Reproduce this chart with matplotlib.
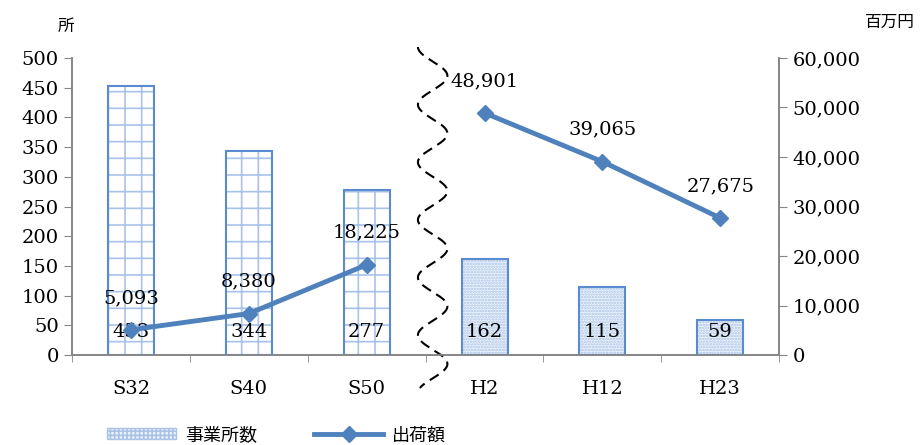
import matplotlib
matplotlib.use("Agg")
import matplotlib.pyplot as plt
import matplotlib.transforms as mtransforms
import numpy as np
from matplotlib.lines import Line2D
from matplotlib.patches import Patch

categories = ["S32", "S40", "S50", "H2", "H12", "H23"]
offices = [453, 344, 277, 162, 115, 59]
shipments_showa = [5093, 8380, 18225]
shipments_heisei = [48901, 39065, 27675]

BLUE = "#4F81BD"
EDGE = "#5B8BCF"
HATCH = "#A9C3E8"
GRAY = "#868686"
SERIF = "DejaVu Serif"
JP = ["Noto Sans CJK JP", "DejaVu Sans"]

plt.rcParams["hatch.linewidth"] = 1.2

fig = plt.figure(figsize=(9.22, 4.45), dpi=100)
ax = fig.add_axes([0.0781, 0.2022, 0.767, 0.6675])
ax2 = ax.twinx()

x = np.arange(len(categories))
width = 0.39
n_showa = len(shipments_showa)

# bars: hatch layer then outline layer
for i, v in enumerate(offices):
    hatch = "+" if i < n_showa else "......"
    face = "white" if i < n_showa else "#EEF3FA"
    ax.bar(x[i], v, width, color=face, edgecolor=HATCH, hatch=hatch, linewidth=0, zorder=2)
    ax.bar(x[i], v, width, color="none", edgecolor=EDGE, linewidth=1.5, zorder=3)
    ax.text(x[i], 38, str(v), ha="center", va="center", fontsize=14,
            family=SERIF, zorder=4)

ax.set_xlim(-0.5, len(categories) - 0.5)
ax.set_ylim(0, 500)
ax.set_yticks(np.arange(0, 501, 50))
ax.set_xticks(x)
ax.set_xticklabels(categories, family=SERIF, fontsize=14)
ax.set_xticks(np.arange(-0.5, len(categories), 1), minor=True)
ax.tick_params(axis="x", which="major", length=0, pad=18)
ax.tick_params(axis="x", which="minor", length=5, color=GRAY, direction="out")
ax.tick_params(axis="y", length=6, color=GRAY, labelsize=14)
for lab in ax.get_yticklabels():
    lab.set_family(SERIF)

# line
ax2.plot(x[:n_showa], shipments_showa, color=BLUE, lw=3.5, marker="D", ms=8, zorder=5)
ax2.plot(x[n_showa:], shipments_heisei, color=BLUE, lw=3.5, marker="D", ms=8, zorder=5)
for xi, v in zip(x, shipments_showa + shipments_heisei):
    ax2.annotate(f"{v:,}", (xi, v), xytext=(0, 23), textcoords="offset points",
                 ha="center", va="center", fontsize=14, family=SERIF)
ax2.set_ylim(0, 60000)
ax2.set_yticks(np.arange(0, 60001, 10000))
ax2.set_yticklabels([f"{t:,}" for t in range(0, 60001, 10000)], family=SERIF)
ax2.tick_params(axis="y", length=6, color=GRAY, labelsize=14)

for a in (ax, ax2):
    a.spines["top"].set_visible(False)
    for s in ("left", "right", "bottom"):
        a.spines[s].set_color(GRAY)
        a.spines[s].set_linewidth(1.2)

# wavy break line between Showa and Heisei
trans = mtransforms.blended_transform_factory(ax.transData, ax.transAxes)
yy = np.linspace(1.037, -0.111, 400)
period = 0.194
xx = 2.56 - 0.125 * np.cos(2 * np.pi * (1.037 - yy) / period)
ax.plot(xx, yy, transform=trans, color="black", lw=1.5, ls=(0, (5, 3)),
        clip_on=False, zorder=6)

fig.text(0.072, 0.94, "所", family=JP, fontsize=12, ha="center", va="center")
fig.text(0.965, 0.95, "百万円", family=JP, fontsize=12, ha="center", va="center")

handles = [
    Patch(facecolor="#EEF3FA", edgecolor=HATCH, hatch="++++"),
    Line2D([0], [0], color=BLUE, lw=3.5, marker="D", ms=8),
]
fig.legend(handles, ["事業所数", "出荷額"], loc="lower center",
           bbox_to_anchor=(0.3, -0.035), ncol=2, frameon=False,
           prop={"family": JP, "size": 13}, handlelength=3.8, handleheight=0.55,
           handletextpad=0.5, columnspacing=3.2)

fig.savefig("out.png", dpi=100)
